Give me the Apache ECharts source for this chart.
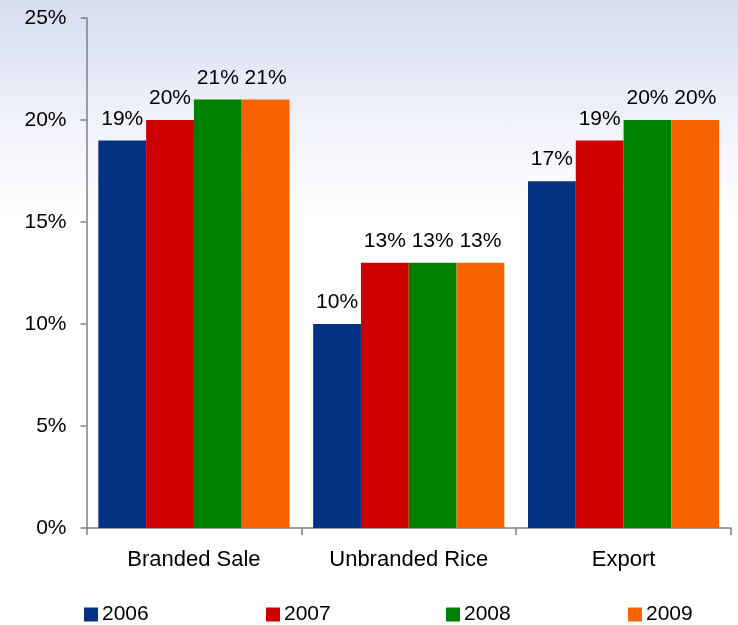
<!DOCTYPE html>
<html><head><meta charset="utf-8">
<script src="https://cdn.jsdelivr.net/npm/echarts@6/dist/echarts.min.js"></script>
<style>html,body{margin:0;padding:0;}#c{width:738px;height:625px;background:linear-gradient(to bottom,#d6dcef 0%,#eef1f9 18%,#ffffff 35%,#ffffff 100%);}</style>
</head><body><div id="c"></div>
<script>
const categories = ['Branded Sale','Unbranded Rice','Export'];
const years = ['2006','2007','2008','2009'];
const v2006 = [19,10,17];
const v2007 = [20,13,19];
const v2008 = [21,13,20];
const v2009 = [21,13,20];
const colors = ['#033282','#cc0000','#008000','#f66300'];
const yTicks = [0,5,10,15,20,25];
const seriesVals = [v2006,v2007,v2008,v2009];
const legendLefts = [79, 261, 441, 623];
const chart = echarts.init(document.getElementById('c'));
const font = 'Liberation Sans, Arial, sans-serif';
chart.setOption({
  backgroundColor: 'transparent',
  animation: false,
  grid: {left: 86.5, right: 7, top: 18, bottom: 97},
  legend: years.map((y, i) => ({
    left: legendLefts[i], top: 599, itemWidth: 14, itemHeight: 14,
    icon: 'rect',
    textStyle: {fontSize: 21, fontFamily: font, color: '#000', padding: [0,0,0,-1]},
    data: [y]
  })),
  xAxis: {
    type: 'category', data: categories,
    axisLine: {lineStyle: {color: '#7f7f7f', width: 1.5}},
    axisTick: {show: true, length: 7, lineStyle: {color: '#7f7f7f', width: 1.5}},
    axisLabel: {fontSize: 22, fontFamily: font, color: '#000', margin: 21}
  },
  yAxis: {
    type: 'value', min: 0, max: 25, interval: 5,
    axisLine: {show: true, lineStyle: {color: '#7f7f7f', width: 1.5}},
    axisTick: {show: true, length: 6, lineStyle: {color: '#7f7f7f', width: 1.5}},
    splitLine: {show: false},
    axisLabel: {fontSize: 21, fontFamily: font, color: '#000', margin: 20, formatter: v => yTicks.includes(v) ? v + '%' : ''}
  },
  series: years.map((y, i) => ({
    name: y, type: 'bar', data: seriesVals[i],
    barGap: '0%', barCategoryGap: '11%',
    itemStyle: {color: colors[i]},
    label: {show: true, position: 'top', distance: 11, fontSize: 21, fontFamily: font, color: '#000', formatter: '{c}%'}
  }))
});
</script></body></html>
